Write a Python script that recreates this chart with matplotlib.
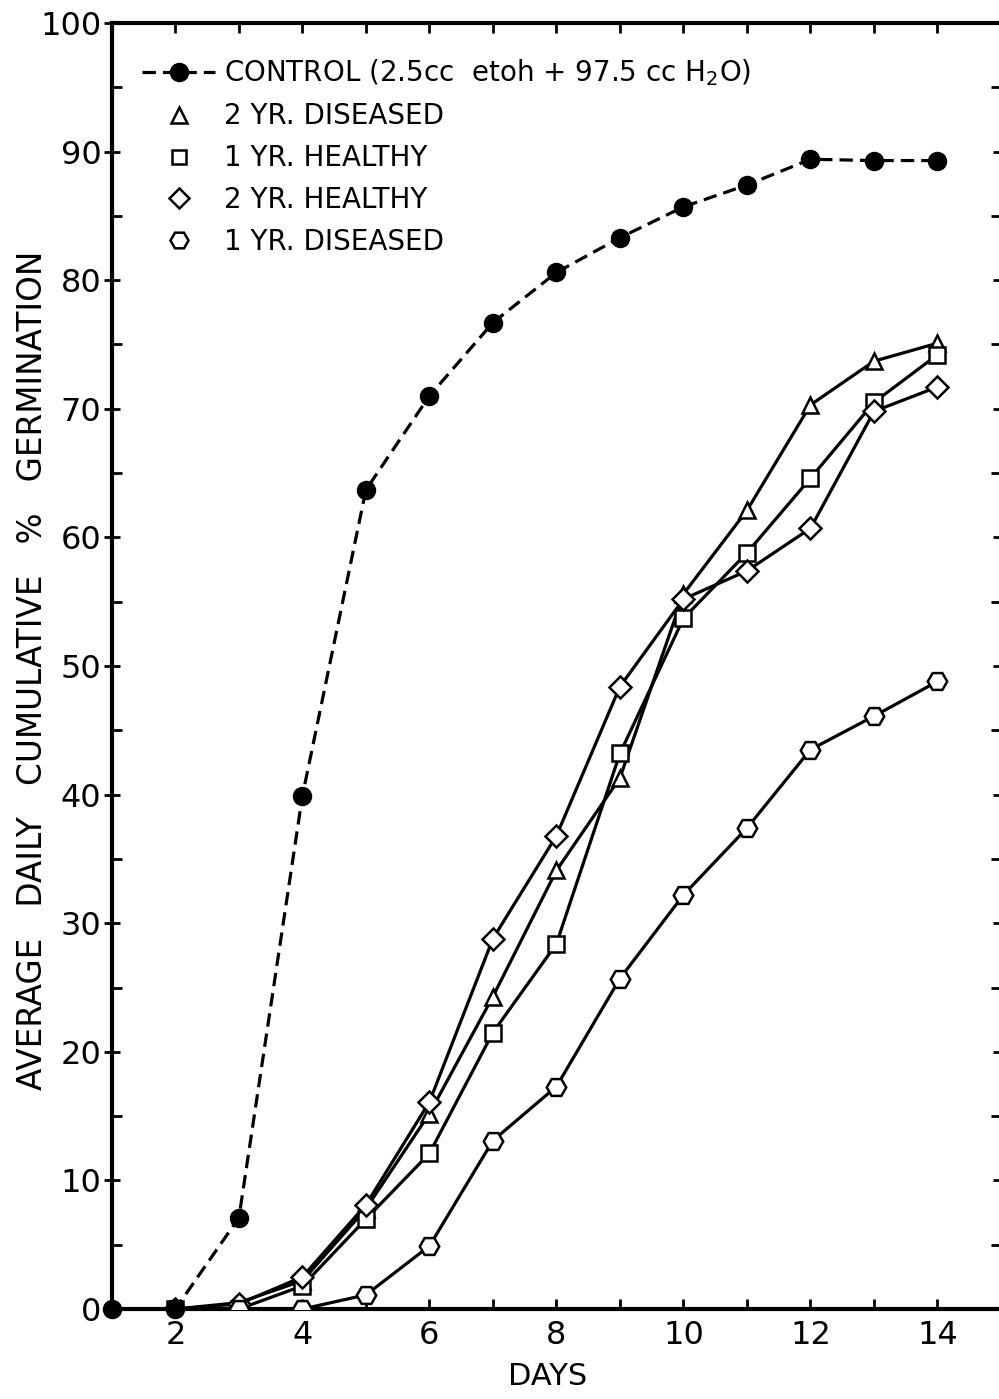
import matplotlib
matplotlib.use("Agg")
import matplotlib.pyplot as plt
from matplotlib.lines import Line2D

days = [1, 2, 3, 4, 5, 6, 7, 8, 9, 10, 11, 12, 13, 14]
days_trt = [2, 3, 4, 5, 6, 7, 8, 9, 10, 11, 12, 13, 14]

control = [0, 0, 7.1, 39.9, 63.7, 71.0, 76.7, 80.6, 83.3, 85.7, 87.4, 89.4, 89.3, 89.3]
yr2_diseased = [0, 0.5, 2.2, 7.8, 15.2, 24.3, 34.1, 41.3, 55.6, 62.1, 70.3, 73.7, 75.1]
yr1_healthy = [0, 0, 1.8, 7.0, 12.1, 21.5, 28.4, 43.2, 53.7, 58.8, 64.6, 70.5, 74.2]
yr2_healthy = [0, 0.4, 2.5, 8.1, 16.1, 28.8, 36.8, 48.4, 55.2, 57.4, 60.7, 69.8, 71.7]
yr1_diseased = [0, 0, 0, 1.1, 4.9, 13.1, 17.3, 25.7, 32.2, 37.4, 43.5, 46.1, 48.8]

labels = ["CONTROL (2.5cc  etoh + 97.5 cc H$_2$O)", "2 YR. DISEASED",
          "1 YR. HEALTHY", "2 YR. HEALTHY", "1 YR. DISEASED"]

plt.rcParams['font.family'] = ['DejaVu Sans']
plt.rcParams['mathtext.default'] = 'regular'

fig = plt.figure(figsize=(9.99, 13.99), dpi=100)
ax = fig.add_axes([0.112, 0.0643, 0.890, 0.9193])

lw = 2.3
mew = 1.8
dash = (0, (4.2, 2.2))
ax.plot(days, control, color='black', lw=lw, ls=dash, marker='o', ms=13,
        mfc='black', mec='black', clip_on=False, zorder=5)
ax.plot(days_trt, yr2_diseased, color='black', lw=lw, marker='^', ms=12,
        mfc='white', mec='black', mew=mew, zorder=4)
ax.plot(days_trt, yr1_healthy, color='black', lw=lw, marker='s', ms=11,
        mfc='white', mec='black', mew=mew, zorder=4)
ax.plot(days_trt, yr2_healthy, color='black', lw=lw, marker='D', ms=11,
        mfc='white', mec='black', mew=mew, zorder=4)
ax.plot(days_trt, yr1_diseased, color='black', lw=lw, marker='H', ms=14,
        mfc='white', mec='black', mew=mew, zorder=4)

ax.set_xlim(1, 15)
ax.set_ylim(0, 100)
ax.set_xticks([2, 4, 6, 8, 10, 12, 14])
ax.set_xticks(range(1, 16), minor=True)
ax.set_yticks(range(0, 101, 10))
ax.set_yticks(range(0, 101, 5), minor=True)
ax.tick_params(which='both', direction='in', top=True, right=True, width=2, length=7)
ax.tick_params(axis='y', which='major', direction='inout', length=11, labelsize=23, pad=2)
ax.tick_params(axis='x', labelsize=23, pad=8)
for s in ax.spines.values():
    s.set_linewidth(3)

ax.set_xlabel('DAYS', fontsize=22)
ax.xaxis.set_label_coords(0.49, -0.041)
ax.set_ylabel('AVERAGE   DAILY   CUMULATIVE   %   GERMINATION', fontsize=23.5)
ax.yaxis.set_label_coords(-0.071, 0.497)

handles = [
    Line2D([], [], color='black', lw=lw, ls=dash, marker='o', ms=13, mfc='black'),
    Line2D([], [], ls='none', marker='^', ms=11, mfc='white', mec='black', mew=mew),
    Line2D([], [], ls='none', marker='s', ms=10, mfc='white', mec='black', mew=mew),
    Line2D([], [], ls='none', marker='D', ms=10, mfc='white', mec='black', mew=mew),
    Line2D([], [], ls='none', marker='H', ms=13, mfc='white', mec='black', mew=mew),
]
ax.legend(handles, labels, loc='upper left', bbox_to_anchor=(0.034, 0.973), frameon=False,
          fontsize=20, handlelength=2.63, handletextpad=0.3, labelspacing=0.5,
          borderaxespad=0, borderpad=0)

fig.savefig('out.png', dpi=100)
